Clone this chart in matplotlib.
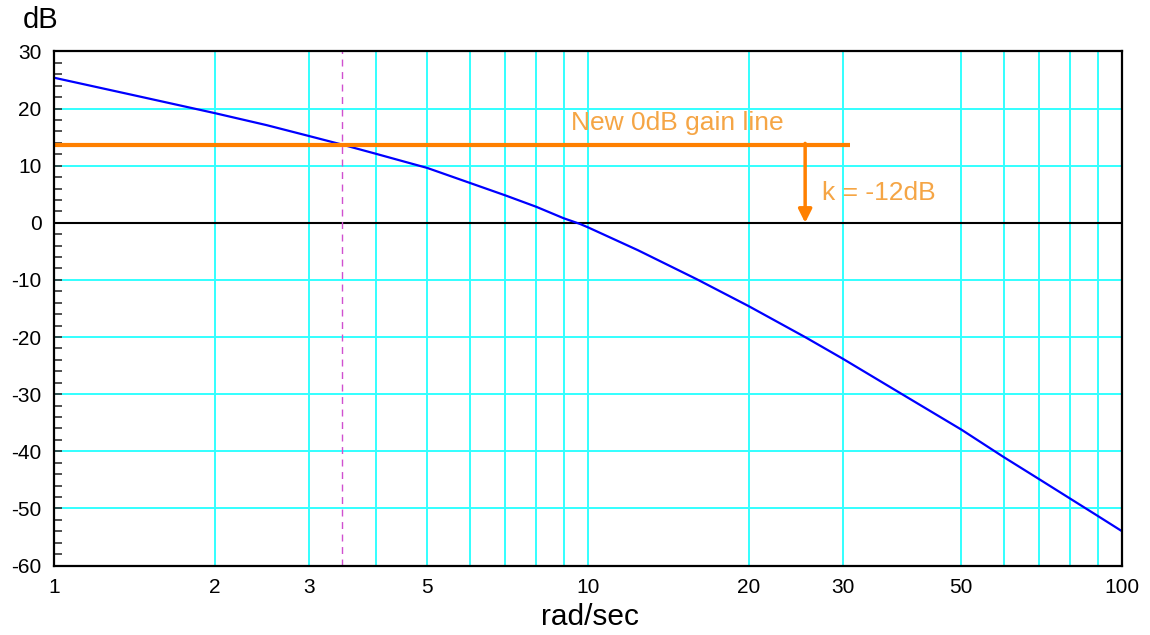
import numpy as np
import matplotlib
matplotlib.use("Agg")
import matplotlib.pyplot as plt
from matplotlib.ticker import FixedLocator, MultipleLocator, NullFormatter

plt.rcParams['font.family'] = ['Liberation Sans', 'DejaVu Sans']
plt.rcParams['axes.unicode_minus'] = False

# magnitude curve
w = [1, 1.4, 2, 2.5, 3, 3.46, 4, 5, 6, 7, 8, 9, 9.66, 10, 12.4, 16, 20, 25.6,
     30, 38.4, 50, 60, 70, 80, 90, 100]
mag = [25.4, 22.4, 19.2, 17.1, 15.2, 13.7, 12.1, 9.6, 7.0, 4.8, 2.8, 0.8, -0.2,
       -0.8, -4.8, -9.9, -14.6, -20.1, -23.8, -29.8, -36.2, -41.0, -44.9,
       -48.3, -51.3, -54.0]

new_gain = 13.7       # new 0dB gain line
gain_end = 30.9
w_cross = 3.46        # crossover on the new line
w_arrow = 25.5

xticks = [1, 2, 3, 5, 10, 20, 30, 50, 100]
xgrid = [2, 3, 4, 5, 6, 7, 8, 9, 10, 20, 30, 50, 60, 70, 80, 90]
ygrid = [-50, -40, -30, -20, -10, 10, 20]

fig = plt.figure(figsize=(11.5, 6.35), dpi=100)
ax = fig.add_axes([0.047, 0.1094, 0.9287, 0.8096])

ax.set_xscale('log')
ax.set_xlim(1, 100)
ax.set_ylim(-60, 30)

for g in xgrid:
    ax.axvline(g, color='#33ffff', lw=1.4, zorder=1)
for g in ygrid:
    ax.axhline(g, color='#33ffff', lw=1.4, zorder=1)
ax.axhline(0, color='black', lw=1.5, zorder=2)

ax.plot(w, mag, color='#0000ff', lw=1.6, zorder=4)

ax.axvline(w_cross, color='#d050d0', lw=1, ls=(0, (5, 4)), zorder=3)
ax.plot([1, gain_end], [new_gain, new_gain], color='#ff8000', lw=3, zorder=5,
        solid_capstyle='butt')
ax.annotate('', xy=(w_arrow, 0), xytext=(w_arrow, new_gain + 0.2),
            arrowprops=dict(arrowstyle='-|>,head_length=0.8,head_width=0.4',
                            color='#ff8000', lw=2.5, shrinkA=0, shrinkB=0),
            zorder=5)

ax.text(9.29, 16.2, 'New 0dB gain line', color='#f5a545', fontsize=19,
        va='baseline', ha='left')
ax.text(27.4, 4.07, 'k = -12dB', color='#f5a545', fontsize=19,
        va='baseline', ha='left')

ax.xaxis.set_major_locator(FixedLocator(xticks))
ax.xaxis.set_minor_locator(FixedLocator([]))
ax.set_xticklabels([str(t) for t in xticks])
ax.xaxis.set_minor_formatter(NullFormatter())
ax.tick_params(axis='x', length=0, labelsize=15, pad=9)

ax.yaxis.set_major_locator(MultipleLocator(10))
ax.yaxis.set_minor_locator(MultipleLocator(2))
ax.tick_params(axis='y', which='both', direction='in', length=6, width=1.2,
               color='#333333', labelsize=15, pad=9)

for s in ax.spines.values():
    s.set_linewidth(1.6)
    s.set_zorder(6)

fig.text(0.035, 0.968, 'dB', fontsize=21, ha='center', va='center')
fig.text(0.513, 0.028, 'rad/sec', fontsize=21.5, ha='center', va='center')

fig.savefig('out.png', dpi=100)
